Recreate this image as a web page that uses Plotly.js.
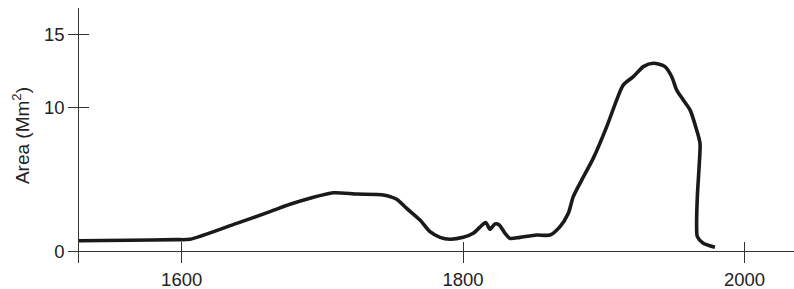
<!DOCTYPE html>
<html>
<head>
<meta charset="utf-8">
<script src="https://cdn.plot.ly/plotly-3.0.1.min.js"></script>
<style>html,body{margin:0;padding:0;background:#fff;}#chart{width:794px;height:289px;}</style>
</head>
<body>
<div id="chart"></div>
<script>
// Year of observation
const years = [1526.5, 1563.3, 1596, 1605.9, 1639.1, 1662.8, 1677, 1691.2, 1707.7, 1724.4,
  1743.3, 1752.8, 1759.9, 1769.4, 1776.5, 1783.6, 1790.7, 1800.1, 1807.2, 1814.4,
  1816.3, 1819.1, 1822.7, 1825.7, 1829.8, 1833.3, 1840.4, 1852.3, 1861.8, 1868.9,
  1874.8, 1878.3, 1884.3, 1892.5, 1902.1, 1909.2, 1913.9, 1921, 1928.1, 1935.2,
  1943.5, 1948.3, 1951.8, 1956.5, 1961.3, 1966, 1968.4, 1967.9, 1966.5, 1966.0,
  1966.5, 1970.7, 1979];
// Area (Mm^2)
const area = [0.74, 0.78, 0.82, 0.85, 1.95, 2.76, 3.27, 3.69, 4.07, 3.98,
  3.92, 3.62, 2.99, 2.18, 1.37, 0.98, 0.85, 0.98, 1.26, 1.91,
  2.00, 1.54, 1.91, 1.84, 1.26, 0.91, 0.98, 1.14, 1.14, 1.72,
  2.65, 3.80, 4.95, 6.45, 8.65, 10.50, 11.54, 12.11, 12.81, 13.04,
  12.81, 12.11, 11.19, 10.50, 9.81, 8.42, 7.50, 6.11, 3.80, 1.72,
  1.03, 0.57, 0.29];
const xTickVals = [1600, 1800, 2000];
const xTickText = ['1600', '1800', '2000'];
const yTickVals = [0, 10, 15];
const yTickText = ['0', '10', '15'];

const xRange = [1519.2, 2035.2];
const yRange = [-0.797, 16.87];
const yZeroFrac = (0 - yRange[0]) / (yRange[1] - yRange[0]);
const yAxisFrac = (1526.5 - xRange[0]) / (xRange[1] - xRange[0]) - 0.0; 
const axisCol = '#333333';
const fontFam = 'Liberation Sans, Arial, Helvetica, sans-serif';

const traces = [
  {x: years, y: area, type: 'scatter', mode: 'lines', xaxis: 'x', yaxis: 'y',
   line: {color: '#1a1a1a', width: 3.6, shape: 'spline', smoothing: 0.7}, hoverinfo: 'skip'},
  {x: years, y: area, type: 'scatter', mode: 'lines', xaxis: 'x2', yaxis: 'y2',
   line: {color: 'rgba(0,0,0,0)', width: 0}, hoverinfo: 'skip'}
];

const common = {showgrid: false, zeroline: false, tickcolor: axisCol, tickwidth: 1};
const layout = {
  width: 794, height: 289,
  margin: {l: 68, r: 0, t: 8, b: 26},
  paper_bgcolor: '#fff', plot_bgcolor: '#fff',
  showlegend: false,
  font: {family: fontFam, color: '#222'},
  xaxis: Object.assign({}, common, {
    range: xRange, anchor: 'free', position: yZeroFrac,
    showline: true, linecolor: axisCol, linewidth: 1,
    ticks: 'outside', ticklen: 11,
    tickmode: 'array', tickvals: xTickVals, ticktext: xTickText,
    tickfont: {family: fontFam, size: 18.5, color: '#222'}
  }),
  xaxis2: Object.assign({}, common, {
    range: xRange, overlaying: 'x', anchor: 'free', position: yZeroFrac,
    showline: false, ticks: 'inside', ticklen: 9,
    tickmode: 'array', tickvals: xTickVals, showticklabels: false
  }),
  yaxis: Object.assign({}, common, {
    range: yRange, anchor: 'free', position: yAxisFrac,
    showline: true, linecolor: axisCol, linewidth: 1,
    ticks: 'outside', ticklen: 10,
    tickmode: 'array', tickvals: yTickVals, ticktext: yTickText,
    tickfont: {family: fontFam, size: 18.5, color: '#222'},
    title: {text: 'Area (Mm<sup>2</sup>)', font: {family: fontFam, size: 19, color: '#222'}, standoff: 8}
  }),
  yaxis2: Object.assign({}, common, {
    range: yRange, overlaying: 'y', anchor: 'free', position: yAxisFrac,
    showline: false, ticks: 'inside', ticklen: 10,
    tickmode: 'array', tickvals: yTickVals, showticklabels: false
  })
};

Plotly.newPlot('chart', traces, layout, {displayModeBar: false, staticPlot: true});
</script>
</body>
</html>
